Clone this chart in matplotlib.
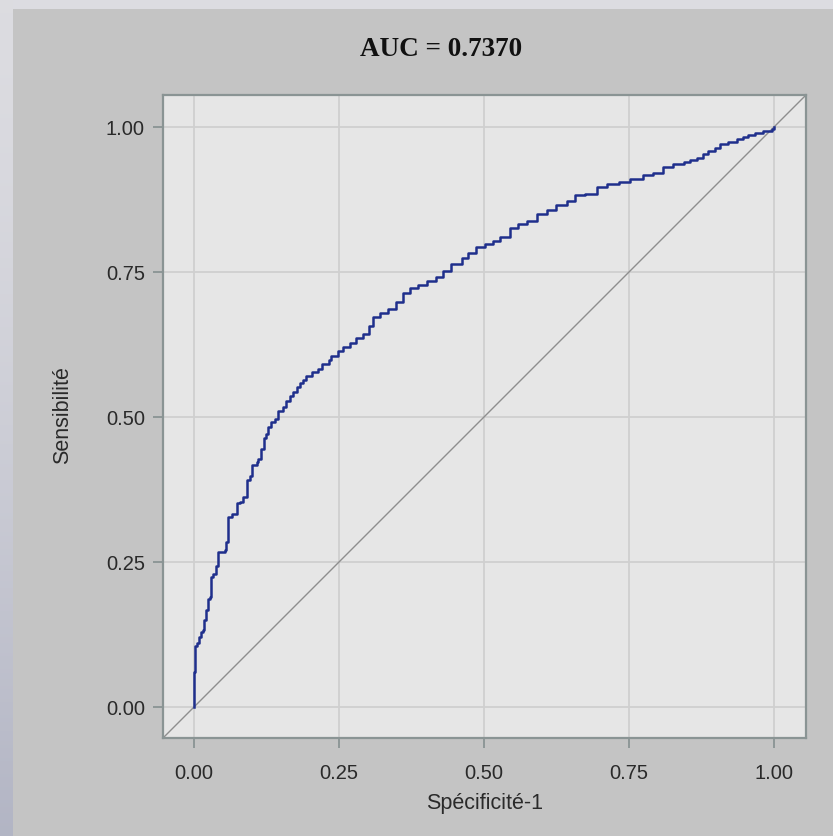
import numpy as np
import matplotlib
matplotlib.use('Agg')
import matplotlib.pyplot as plt
from matplotlib.patches import Rectangle

# points (1-specificity, sensitivity)
fpr = [0.000, 0.000, 0.002, 0.005, 0.009, 0.012, 0.016, 0.017, 0.021, 0.021,
       0.025, 0.028, 0.029, 0.033, 0.038, 0.042, 0.053, 0.055, 0.059, 0.059,
       0.065, 0.075, 0.075, 0.079, 0.085, 0.092, 0.092, 0.097, 0.100, 0.108,
       0.111, 0.115, 0.120, 0.124, 0.128, 0.132, 0.140, 0.145, 0.154, 0.159,
       0.166, 0.171, 0.177, 0.182, 0.188, 0.194, 0.203, 0.214, 0.220, 0.232,
       0.237, 0.249, 0.257, 0.269, 0.280, 0.292, 0.301, 0.309, 0.321, 0.335,
       0.349, 0.361, 0.372, 0.387, 0.401, 0.418, 0.430, 0.444, 0.462, 0.473,
       0.487, 0.502, 0.516, 0.528, 0.545, 0.559, 0.574, 0.591, 0.608, 0.625,
       0.643, 0.657, 0.674, 0.694, 0.712, 0.732, 0.752, 0.775, 0.792, 0.809,
       0.826, 0.844, 0.855, 0.867, 0.878, 0.887, 0.898, 0.907, 0.921, 0.936,
       0.947, 0.956, 0.967, 0.981, 0.996, 1.000]
tpr = [0.000, 0.061, 0.105, 0.110, 0.121, 0.130, 0.133, 0.150, 0.153, 0.167,
       0.187, 0.190, 0.224, 0.230, 0.244, 0.267, 0.270, 0.285, 0.305, 0.328,
       0.333, 0.336, 0.351, 0.353, 0.362, 0.368, 0.391, 0.399, 0.417, 0.422,
       0.428, 0.445, 0.464, 0.471, 0.482, 0.491, 0.497, 0.511, 0.517, 0.528,
       0.537, 0.543, 0.551, 0.558, 0.563, 0.571, 0.577, 0.583, 0.591, 0.598,
       0.606, 0.613, 0.620, 0.627, 0.636, 0.643, 0.657, 0.672, 0.679, 0.686,
       0.698, 0.713, 0.723, 0.728, 0.735, 0.742, 0.751, 0.764, 0.774, 0.782,
       0.793, 0.798, 0.804, 0.811, 0.826, 0.832, 0.838, 0.850, 0.857, 0.866,
       0.873, 0.883, 0.884, 0.896, 0.901, 0.906, 0.910, 0.917, 0.920, 0.931,
       0.937, 0.940, 0.943, 0.947, 0.953, 0.959, 0.963, 0.971, 0.975, 0.979,
       0.983, 0.987, 0.990, 0.993, 0.996, 1.000]
ticks = [0.0, 0.25, 0.5, 0.75, 1.0]
tick_labels = ['0.00', '0.25', '0.50', '0.75', '1.00']
auc = 0.7370

plt.rcParams['font.family'] = ['Liberation Sans', 'DejaVu Sans']

fig = plt.figure(figsize=(8.33, 8.36), dpi=100)
fig.patch.set_facecolor('#dcdce1')

# left gradient strip and gray panel
strip = fig.add_axes([0, 0, 13/833, 1])
grad = np.linspace(0, 1, 256).reshape(-1, 1)
top = np.array([0.863, 0.863, 0.882])
bot = np.array([0.70, 0.71, 0.77])
img = top + (bot - top) * grad[:, :, None] ** 1.5
strip.imshow(img, aspect='auto', extent=[0, 1, 0, 1], origin='upper')
strip.axis('off')
fig.patches.append(Rectangle((13/833, 0), 1 - 13/833, 1 - 9/836,
                             transform=fig.transFigure, facecolor='#c4c4c4',
                             edgecolor='none', zorder=-1))

ax = fig.add_axes([163/833, 1 - 738/836, (806-163)/833, (738-95)/836])
ax.set_facecolor('#e6e6e6')
lo, hi = -0.0534, 1.0552
ax.set_xlim(lo, hi)
ax.set_ylim(lo, hi)

ax.plot([lo, hi], [lo, hi], color='#8e8e8e', lw=1.0, zorder=2)
ax.plot(fpr, tpr, drawstyle='steps-post', color='#1f2f8c', lw=1.8, zorder=3)

ax.set_xticks(ticks)
ax.set_yticks(ticks)
ax.set_xticklabels(tick_labels)
ax.set_yticklabels(tick_labels)
ax.grid(True, color='#cfcfcf', lw=1.3)
ax.set_axisbelow(True)
for s in ax.spines.values():
    s.set_color('#8a9494')
    s.set_linewidth(1.6)
ax.tick_params(direction='out', length=7, width=1.3, color='#8a9494',
               labelcolor='#2a2a2a', labelsize=14.5, pad=6)
ax.tick_params(axis='x', pad=12)

fig.text(441/833, 1 - 50/836, 'AUC = %.4f' % auc,
         family='Liberation Serif', fontweight='bold', fontsize=19.5,
         ha='center', va='center', color='#111111')
fig.text(0.5 * (163 + 806) / 833, 1 - 803/836, 'Spécificité-1',
         fontsize=15.5, ha='center', va='center', color='#2a2a2a')
fig.text(63/833, 1 - 415/836, 'Sensibilité', rotation=90,
         fontsize=15.5, ha='center', va='center', color='#2a2a2a')

plt.savefig('out.png', dpi=100, facecolor=fig.get_facecolor())
